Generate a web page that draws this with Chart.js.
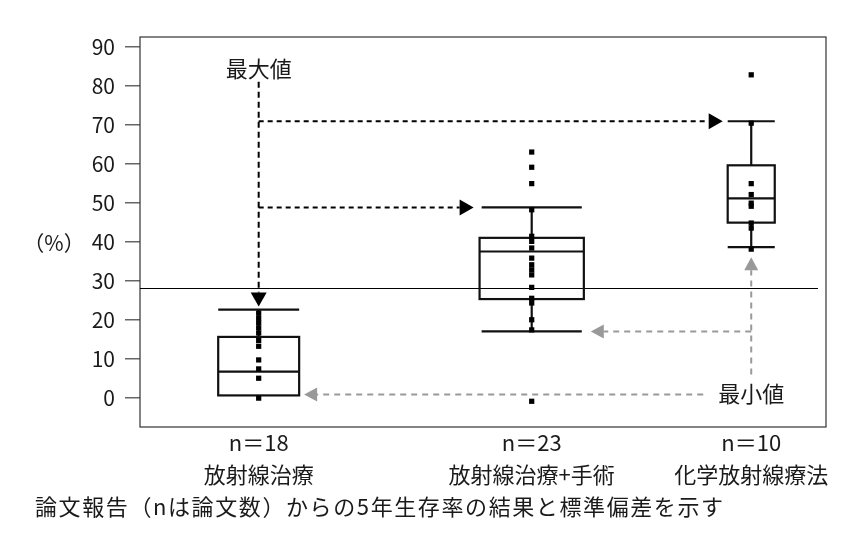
<!DOCTYPE html>
<html lang="ja">
<head>
<meta charset="utf-8">
<title>5年生存率</title>
<script src="https://cdn.jsdelivr.net/npm/chart.js@4.4.1/dist/chart.umd.min.js"></script>
<style>
    html, body { margin: 0; padding: 0; background: #fff; }
    #wrap { width: 862px; height: 555px; }
</style>
</head>
<body>
<div id="wrap"><canvas id="survivalChart"></canvas></div>
<script>
// data (5-year survival, %)
const groups = ['放射線治療', '放射線治療+手術', '化学放射線療法'];
const counts = [18, 23, 10];
const maxValues = [22.6, 48.8, 70.9];
const q3Values = [15.6, 41.0, 59.6];
const medianValues = [6.7, 37.5, 51.1];
const q1Values = [0.6, 25.3, 44.9];
const minValues = [0.6, 17.0, 38.6];
const pointsG1 = [21.7, 20.4, 19.2, 17.9, 16.6, 14.7, 13.2, 9.7, 7.4, 5.0, -0.1];
const pointsG2 = [63.0, 59.1, 54.9, 48.2, 41.4, 40.1, 38.4, 35.8, 34.1, 32.8, 31.5, 28.3, 25.5, 24.3, 20.0, 17.4, -0.9];
const pointsG3 = [82.8, 70.4, 54.9, 52.1, 49.9, 49.1, 44.8, 43.5, 38.1];
const yTicks = [0, 10, 20, 30, 40, 50, 60, 70, 80, 90];
const referenceLine = 28.2;
const caption = '論文報告（nは論文数）からの5年生存率の結果と標準偏差を示す';

// layout (x axis runs 0..100 across the plot frame)
const groupX = [17.3, 57.1, 89.1];
const boxHalf = [5.9, 7.6, 3.43];
const capHalf = [5.9, 7.3, 3.43];

const FONT = '"Noto Sans CJK JP", "Noto Sans", sans-serif';
const TEXT = '#1a1a1a';
const GREY = '#999999';

function dashedLine(ctx, x1, y1, x2, y2, color, dash) {
    ctx.save();
    ctx.strokeStyle = color;
    ctx.lineWidth = 2;
    ctx.setLineDash(dash);
    ctx.beginPath();
    ctx.moveTo(x1, y1);
    ctx.lineTo(x2, y2);
    ctx.stroke();
    ctx.restore();
}

function arrowHead(ctx, tx, ty, dir, color, len, half) {
    ctx.save();
    ctx.fillStyle = color;
    ctx.beginPath();
    ctx.moveTo(tx, ty);
    if (dir === 'down') { ctx.lineTo(tx - half, ty - len); ctx.lineTo(tx + half, ty - len); }
    if (dir === 'up') { ctx.lineTo(tx - half, ty + len); ctx.lineTo(tx + half, ty + len); }
    if (dir === 'right') { ctx.lineTo(tx - len, ty - half); ctx.lineTo(tx - len, ty + half); }
    if (dir === 'left') { ctx.lineTo(tx + len, ty - half); ctx.lineTo(tx + len, ty + half); }
    ctx.closePath();
    ctx.fill();
    ctx.restore();
}

const boxPlotPlugin = {
    id: 'boxPlot',
    beforeDatasetsDraw(chart) {
        const { ctx, chartArea: area, scales: { x, y } } = chart;
        ctx.save();
        // frame
        ctx.strokeStyle = '#333';
        ctx.lineWidth = 1.2;
        ctx.strokeRect(area.left, area.top, area.right - area.left, area.bottom - area.top);
        // reference line
        const ry = Math.round(y.getPixelForValue(referenceLine)) + 0.5;
        ctx.strokeStyle = '#000';
        ctx.lineWidth = 1;
        ctx.beginPath();
        ctx.moveTo(area.left, ry);
        ctx.lineTo(area.right - 8, ry);
        ctx.stroke();

        ctx.strokeStyle = '#111';
        ctx.lineWidth = 2.2;
        groups.forEach((g, i) => {
            const cx = x.getPixelForValue(groupX[i]);
            const bl = x.getPixelForValue(groupX[i] - boxHalf[i]);
            const br = x.getPixelForValue(groupX[i] + boxHalf[i]);
            const cl = x.getPixelForValue(groupX[i] - capHalf[i]);
            const cr = x.getPixelForValue(groupX[i] + capHalf[i]);
            const yMax = y.getPixelForValue(maxValues[i]);
            const yQ3 = y.getPixelForValue(q3Values[i]);
            const yMed = y.getPixelForValue(medianValues[i]);
            const yQ1 = y.getPixelForValue(q1Values[i]);
            const yMin = y.getPixelForValue(minValues[i]);
            ctx.beginPath();
            ctx.moveTo(cx, yQ3); ctx.lineTo(cx, yMax);
            ctx.moveTo(cl, yMax); ctx.lineTo(cr, yMax);
            if (minValues[i] < q1Values[i]) {
                ctx.moveTo(cx, yQ1); ctx.lineTo(cx, yMin);
                ctx.moveTo(cl, yMin); ctx.lineTo(cr, yMin);
            }
            ctx.moveTo(bl, yMed); ctx.lineTo(br, yMed);
            ctx.stroke();
            ctx.strokeRect(bl, yQ3, br - bl, yQ1 - yQ3);
        });
        ctx.restore();
    },
    afterDatasetsDraw(chart) {
        const { ctx, scales: { x, y } } = chart;
        ctx.save();
        ctx.font = '22px ' + FONT;
        ctx.fillStyle = TEXT;
        ctx.textAlign = 'center';
        ctx.textBaseline = 'middle';

        // maximum arrows
        const mx = x.getPixelForValue(groupX[0]);
        const labelY = y.getPixelForValue(84.5);
        ctx.fillText('最大値', mx, labelY);
        const downTip = y.getPixelForValue(maxValues[0]) - 3;
        dashedLine(ctx, mx, y.getPixelForValue(81), mx, downTip - 14, '#000', [6, 4]);
        arrowHead(ctx, mx, downTip, 'down', '#000', 14, 8);
        [2, 1].forEach(i => {
            const hy = y.getPixelForValue(maxValues[i]);
            const tip = x.getPixelForValue(groupX[i] - capHalf[i]) - (i === 2 ? 5 : 8);
            dashedLine(ctx, mx, hy, tip - 14, hy, '#000', [5, 4]);
            arrowHead(ctx, tip, hy, 'right', '#000', 14, 8);
        });

        // minimum arrows
        const nx = x.getPixelForValue(groupX[2]);
        const by = y.getPixelForValue(minValues[0]) - 1;
        ctx.fillText('最小値', nx, by - 1);
        const leftTip = x.getPixelForValue(groupX[0] + boxHalf[0]) + 5;
        dashedLine(ctx, nx - 48, by, leftTip + 13, by, GREY, [6, 5]);
        arrowHead(ctx, leftTip, by, 'left', GREY, 13, 7);
        const upTip = y.getPixelForValue(minValues[2]) + 10;
        dashedLine(ctx, nx, by - 20, nx, upTip + 13, GREY, [6, 5]);
        arrowHead(ctx, nx, upTip, 'up', GREY, 13, 7);
        const gy = y.getPixelForValue(minValues[1]);
        const midTip = x.getPixelForValue(groupX[1] + capHalf[1]) + 9;
        dashedLine(ctx, nx, gy, midTip + 13, gy, GREY, [6, 5]);
        arrowHead(ctx, midTip, gy, 'left', GREY, 13, 7);
        ctx.restore();
    },
    afterDraw(chart) {
        const { ctx, chartArea: area, scales: { x } } = chart;
        ctx.save();
        ctx.fillStyle = TEXT;
        ctx.textBaseline = 'middle';
        ctx.font = '21px ' + FONT;
        ctx.textAlign = 'center';
        ctx.fillText('（%）', 54, chart.scales.y.getPixelForValue(40) + 1);
        ctx.font = '22px ' + FONT;
        groups.forEach((g, i) => {
            const cx = x.getPixelForValue(groupX[i]);
            ctx.fillText('n＝' + counts[i], cx, area.bottom + 16);
            ctx.fillText(g, cx, area.bottom + 48);
        });
        ctx.textAlign = 'left';
        ctx.letterSpacing = '1.6px';
        ctx.fillText(caption, 35, area.bottom + 80);
        ctx.restore();
    }
};

const canvas = document.getElementById('survivalChart');
new Chart(canvas.getContext('2d'), {
    type: 'scatter',
    data: {
        datasets: [pointsG1, pointsG2, pointsG3].map((pts, i) => ({
            label: groups[i],
            data: pts.map(v => ({ x: groupX[i], y: v })),
            pointStyle: 'rect',
            pointRadius: 3.7,
            pointBorderWidth: 0,
            backgroundColor: '#000',
            borderColor: '#000'
        }))
    },
    options: {
        responsive: true,
        maintainAspectRatio: false,
        animation: false,
        layout: { padding: { left: 0, top: 37, right: 36, bottom: 128 } },
        plugins: {
            legend: { display: false },
            tooltip: { enabled: false }
        },
        scales: {
            x: { type: 'linear', min: 0, max: 100, display: false },
            y: {
                min: -7.5,
                max: 92.5,
                afterFit(scale) { scale.width = 140; },
                afterBuildTicks(scale) { scale.ticks = yTicks.map(v => ({ value: v })); },
                border: { display: false },
                grid: { drawOnChartArea: false, tickLength: 15, color: '#666', lineWidth: 1.5 },
                ticks: {
                    padding: 10,
                    color: TEXT,
                    font: { family: FONT, size: 21 }
                }
            }
        }
    },
    plugins: [boxPlotPlugin]
});
</script>
</body>
</html>
